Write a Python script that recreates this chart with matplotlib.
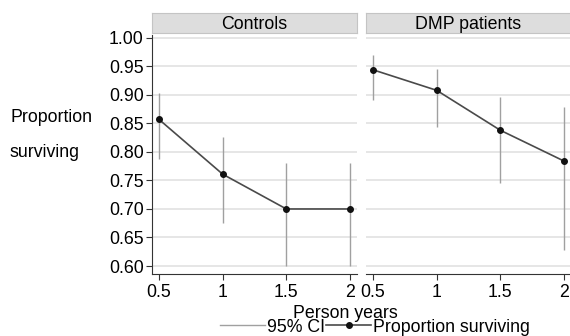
import matplotlib
matplotlib.use("Agg")
from matplotlib import pyplot as plt
from matplotlib.lines import Line2D

# data
years = [0.5, 1, 1.5, 2]
panels = ["Controls", "DMP patients"]
surv = {"Controls": [0.857, 0.761, 0.700, 0.700],
        "DMP patients": [0.944, 0.908, 0.838, 0.784]}
lo = {"Controls": [0.788, 0.675, 0.600, 0.600],
      "DMP patients": [0.891, 0.843, 0.746, 0.628]}
hi = {"Controls": [0.903, 0.827, 0.781, 0.781],
      "DMP patients": [0.970, 0.946, 0.897, 0.879]}
yticks = [0.60, 0.65, 0.70, 0.75, 0.80, 0.85, 0.90, 0.95, 1.00]
xticks = [0.5, 1, 1.5, 2]
xlabels = ["0.5", "1", "1.5", "2"]

fs = 12.8
plt.rcParams.update({'font.family': 'Liberation Sans', 'font.size': fs})
W, H = 570, 336
fig = plt.figure(figsize=(W/100, H/100), dpi=100)

linecol = '#4a4a4a'
cicol = '#a0a0a0'
gridcol = '#e2e2e2'

lefts = [152, 366]
for i, name in enumerate(panels):
    x0 = lefts[i]
    ax = fig.add_axes([x0/W, (H-274)/H, 205/W, 239/H])
    ax.set_xlim(0.445, 2.055)
    ax.set_ylim(0.586, 1.005)
    ax.vlines(years, lo[name], hi[name], color=cicol, lw=1.0, zorder=2)
    ax.plot(years, surv[name], '-o', color=linecol, lw=1.2, ms=4,
            mfc='#111111', mec='#111111', zorder=3)
    ax.set_yticks(yticks)
    ax.yaxis.grid(True, color=gridcol, lw=1.2)
    ax.set_axisbelow(True)
    ax.set_xticks(xticks)
    ax.set_xticklabels(xlabels)
    for s in ['top', 'right']:
        ax.spines[s].set_visible(False)
    ax.spines['bottom'].set_color('#333333')
    ax.spines['left'].set_color('#333333')
    ax.tick_params(axis='x', direction='out', length=4, color='#333333', pad=3)
    if i == 0:
        ax.set_yticklabels(["%.2f" % v for v in yticks])
        ax.tick_params(axis='y', direction='out', length=4, color='#333333', pad=2)
    else:
        ax.spines['left'].set_visible(False)
        ax.tick_params(axis='y', length=0, labelleft=False)

    # panel header strip
    st = fig.add_axes([x0/W, (H-33)/H, 205/W, 20/H])
    st.set_xticks([])
    st.set_yticks([])
    st.set_facecolor('#dddddd')
    for s in st.spines.values():
        s.set_color('#c4c4c4')
    st.text(0.5, 0.42, name, ha='center', va='center', transform=st.transAxes,
            fontsize=fs)

fig.text(10/W, 1 - 118/H, "Proportion", ha='left', va='center', fontsize=fs)
fig.text(10/W, 1 - 153/H, "surviving", ha='left', va='center', fontsize=fs)
fig.text(345/W, 1 - 313/H, "Person years", ha='center', va='center', fontsize=fs)

handles = [Line2D([], [], color=cicol, lw=1.0),
           Line2D([], [], color=linecol, lw=1.2, marker='o', ms=4,
                  mfc='#111111', mec='#111111')]
fig.legend(handles, ["95% CI", "Proportion surviving"], ncol=2, frameon=False,
           loc='center', bbox_to_anchor=(375/W, 1 - 327/H), handlelength=2.5,
           handletextpad=0.1, columnspacing=0.1, borderpad=0, fontsize=fs)

fig.savefig("out.png", dpi=100)
